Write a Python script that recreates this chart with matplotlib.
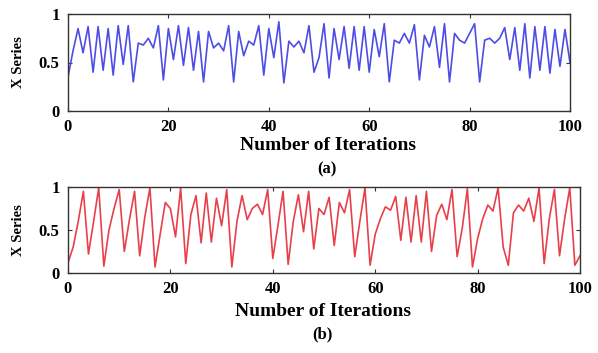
import matplotlib.pyplot as plt

# iterations 0..100 (one value per iteration)
iterations = list(range(101))

# series (a): X values
x_series_a = [
    0.35, 0.62, 0.85, 0.60, 0.87, 0.40, 0.87, 0.42, 0.85, 0.37,
    0.88, 0.48, 0.88, 0.30, 0.70, 0.68, 0.75, 0.65, 0.88, 0.32,
    0.85, 0.53, 0.88, 0.47, 0.86, 0.42, 0.82, 0.30, 0.82, 0.65,
    0.70, 0.62, 0.88, 0.30, 0.82, 0.57, 0.72, 0.68, 0.88, 0.37,
    0.85, 0.55, 0.92, 0.29, 0.72, 0.66, 0.72, 0.60, 0.88, 0.40,
    0.55,
    0.90, 0.34, 0.85, 0.53, 0.87, 0.44, 0.87, 0.42, 0.87, 0.40,
    0.84, 0.56, 0.90, 0.30, 0.73, 0.70, 0.80, 0.70, 0.89, 0.32,
    0.78, 0.66, 0.87, 0.45, 0.90, 0.30, 0.80, 0.73, 0.70, 0.80,
    0.90, 0.30, 0.73, 0.75, 0.70, 0.75, 0.86, 0.53, 0.86, 0.42,
    0.90, 0.34, 0.87, 0.42, 0.87, 0.39, 0.84, 0.46, 0.84, 0.50,
]

# series (b): X values
x_series_b = [
    0.12, 0.30, 0.60, 0.95, 0.22, 0.60, 0.99, 0.08, 0.50, 0.75,
    0.97, 0.25, 0.62, 0.95, 0.20, 0.65, 0.99, 0.07, 0.45, 0.82,
    0.75, 0.42, 0.99, 0.11, 0.68, 0.90, 0.35, 0.93, 0.36, 0.87,
    0.55, 0.97, 0.07, 0.60, 0.90, 0.62, 0.75, 0.80, 0.68, 0.97,
    0.17, 0.55, 0.95, 0.10, 0.60, 0.91, 0.48, 0.95, 0.28, 0.75,
    0.68, 0.88, 0.32, 0.82, 0.70, 0.97, 0.19, 0.60, 0.99, 0.09,
    0.45, 0.63, 0.77, 0.73, 0.89, 0.38, 0.88, 0.36, 0.90, 0.36,
    0.95, 0.25, 0.67, 0.80, 0.62, 0.97, 0.19, 0.52, 0.98, 0.07,
    0.40, 0.63, 0.79, 0.72, 0.99, 0.30, 0.09, 0.70, 0.79, 0.72,
    0.87, 0.60, 0.99, 0.11, 0.63, 0.97, 0.20, 0.63, 0.99, 0.09,
    0.20,
]

x_ticks = [0, 20, 40, 60, 80, 100]
y_ticks = [0, 0.5, 1]
y_tick_labels = ['0', '0.5', '1']

plt.rcParams['font.family'] = ['Liberation Serif', 'DejaVu Serif']
plt.rcParams['font.weight'] = 'bold'

W, H = 598, 353
fig = plt.figure(figsize=(W / 100, H / 100), dpi=100)
ax_a = fig.add_axes([68 / W, 1 - 111 / H, 502 / W, 97 / H])
ax_b = fig.add_axes([68 / W, 1 - 273 / H, 512 / W, 86 / H])

# axes, values, colour, tag, xlabel centre (px), tag centre (px)
panels = [
    (ax_a, x_series_a, '#4d4de6', '(a)', (328, 145), (327, 169)),
    (ax_b, x_series_b, '#e8404a', '(b)', (323, 312), (322, 334)),
]

for ax, values, color, tag, lab_pos, tag_pos in panels:
    ax.plot(iterations, values, color=color, lw=1.2)
    ax.set_xlim(0, 100)
    ax.set_ylim(0, 1)
    ax.set_xticks(x_ticks)
    ax.set_yticks(y_ticks)
    ax.set_yticklabels(y_tick_labels)
    ax.tick_params(direction='in', top=True, right=True, length=3,
                   labelsize=12, color='#333333')
    ax.tick_params(axis='x', pad=6)
    ax.tick_params(axis='y', pad=6)
    for lbl in ax.get_xticklabels() + ax.get_yticklabels():
        lbl.set_fontweight('bold')
    for sp in ax.spines.values():
        sp.set_color('#333333')
        sp.set_linewidth(1.0)
    ax.set_ylabel('X Series', fontsize=10.5, fontweight='bold')
    # put the label centre about 18 px from the left edge
    width_px = ax.get_position().width * W
    ax.yaxis.set_label_coords(-(68 - 25) / width_px, 0.5)
    fig.text(lab_pos[0] / W, 1 - lab_pos[1] / H, 'Number of Iterations',
             ha='center', va='center', fontsize=14, fontweight='bold')
    fig.text(tag_pos[0] / W, 1 - tag_pos[1] / H, tag,
             ha='center', va='center', fontsize=12, fontweight='bold')

fig.savefig('out.png', dpi=100)
